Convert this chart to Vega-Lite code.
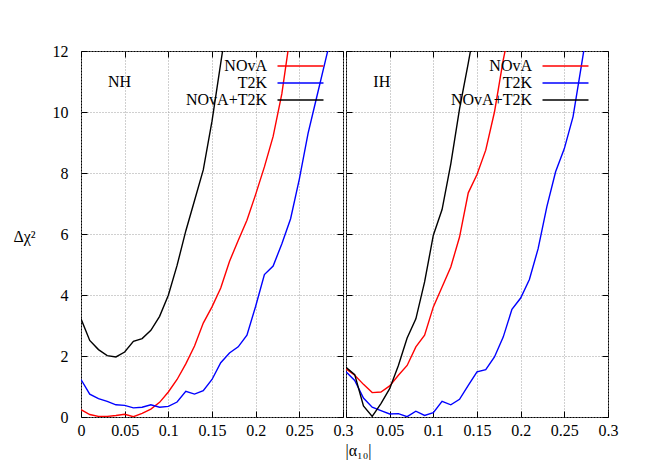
{
  "$schema": "https://vega.github.io/schema/vega-lite/v6.json",
  "padding": {"left": 12, "top": -26, "right": 5, "bottom": 5},
  "bounds": "flush",
  "spacing": 3,
  "background": "white",
  "config": {
    "font": "Liberation Serif",
    "view": {"stroke": "#000", "strokeWidth": 1},
    "axis": {
      "labelFont": "Liberation Serif", "labelFontSize": 16, "labelColor": "#000", "labelFlush": false,
      "titleFont": "Liberation Serif", "titleFontSize": 16, "titleFontWeight": "normal", "titleColor": "#000",
      "domain": false, "tickColor": "#000", "tickSize": -6, "tickWidth": 1,
      "gridColor": "#a0a0a0", "gridDash": [1, 2], "gridWidth": 1, "gridOpacity": 1
    }
  },
  "datasets": {
    "curves": [
      {"panel":"NH","series":"NOvA","x":0,"y":0.24},{"panel":"NH","series":"NOvA","x":0.01,"y":0.08},{"panel":"NH","series":"NOvA","x":0.02,"y":0.02},{"panel":"NH","series":"NOvA","x":0.03,"y":0.02},{"panel":"NH","series":"NOvA","x":0.04,"y":0.05},{"panel":"NH","series":"NOvA","x":0.05,"y":0.09},{"panel":"NH","series":"NOvA","x":0.06,"y":0.01},{"panel":"NH","series":"NOvA","x":0.07,"y":0.12},{"panel":"NH","series":"NOvA","x":0.08,"y":0.26},{"panel":"NH","series":"NOvA","x":0.09,"y":0.48},{"panel":"NH","series":"NOvA","x":0.10,"y":0.82},{"panel":"NH","series":"NOvA","x":0.11,"y":1.23},{"panel":"NH","series":"NOvA","x":0.12,"y":1.74},{"panel":"NH","series":"NOvA","x":0.13,"y":2.33},{"panel":"NH","series":"NOvA","x":0.14,"y":3.08},{"panel":"NH","series":"NOvA","x":0.15,"y":3.61},{"panel":"NH","series":"NOvA","x":0.16,"y":4.23},{"panel":"NH","series":"NOvA","x":0.17,"y":5.10},{"panel":"NH","series":"NOvA","x":0.18,"y":5.79},{"panel":"NH","series":"NOvA","x":0.19,"y":6.45},{"panel":"NH","series":"NOvA","x":0.20,"y":7.3},{"panel":"NH","series":"NOvA","x":0.21,"y":8.2},{"panel":"NH","series":"NOvA","x":0.22,"y":9.2},{"panel":"NH","series":"NOvA","x":0.23,"y":10.6},{"panel":"NH","series":"NOvA","x":0.24,"y":12.6},{"panel":"NH","series":"NOvA","x":0.25,"y":14.5},
      {"panel":"NH","series":"T2K","x":0,"y":1.23},{"panel":"NH","series":"T2K","x":0.01,"y":0.75},{"panel":"NH","series":"T2K","x":0.02,"y":0.60},{"panel":"NH","series":"T2K","x":0.03,"y":0.51},{"panel":"NH","series":"T2K","x":0.04,"y":0.40},{"panel":"NH","series":"T2K","x":0.05,"y":0.38},{"panel":"NH","series":"T2K","x":0.06,"y":0.30},{"panel":"NH","series":"T2K","x":0.07,"y":0.32},{"panel":"NH","series":"T2K","x":0.08,"y":0.40},{"panel":"NH","series":"T2K","x":0.09,"y":0.32},{"panel":"NH","series":"T2K","x":0.10,"y":0.35},{"panel":"NH","series":"T2K","x":0.11,"y":0.49},{"panel":"NH","series":"T2K","x":0.12,"y":0.84},{"panel":"NH","series":"T2K","x":0.13,"y":0.75},{"panel":"NH","series":"T2K","x":0.14,"y":0.86},{"panel":"NH","series":"T2K","x":0.15,"y":1.23},{"panel":"NH","series":"T2K","x":0.16,"y":1.78},{"panel":"NH","series":"T2K","x":0.17,"y":2.10},{"panel":"NH","series":"T2K","x":0.18,"y":2.30},{"panel":"NH","series":"T2K","x":0.19,"y":2.68},{"panel":"NH","series":"T2K","x":0.20,"y":3.63},{"panel":"NH","series":"T2K","x":0.21,"y":4.67},{"panel":"NH","series":"T2K","x":0.22,"y":4.95},{"panel":"NH","series":"T2K","x":0.23,"y":5.68},{"panel":"NH","series":"T2K","x":0.24,"y":6.5},{"panel":"NH","series":"T2K","x":0.25,"y":7.8},{"panel":"NH","series":"T2K","x":0.26,"y":9.3},{"panel":"NH","series":"T2K","x":0.27,"y":10.5},{"panel":"NH","series":"T2K","x":0.28,"y":11.7},{"panel":"NH","series":"T2K","x":0.29,"y":12.9},{"panel":"NH","series":"T2K","x":0.30,"y":14.0},
      {"panel":"NH","series":"NOvA+T2K","x":0,"y":3.22},{"panel":"NH","series":"NOvA+T2K","x":0.01,"y":2.51},{"panel":"NH","series":"NOvA+T2K","x":0.02,"y":2.21},{"panel":"NH","series":"NOvA+T2K","x":0.03,"y":2.01},{"panel":"NH","series":"NOvA+T2K","x":0.04,"y":1.97},{"panel":"NH","series":"NOvA+T2K","x":0.05,"y":2.13},{"panel":"NH","series":"NOvA+T2K","x":0.06,"y":2.48},{"panel":"NH","series":"NOvA+T2K","x":0.07,"y":2.57},{"panel":"NH","series":"NOvA+T2K","x":0.08,"y":2.84},{"panel":"NH","series":"NOvA+T2K","x":0.09,"y":3.30},{"panel":"NH","series":"NOvA+T2K","x":0.10,"y":3.99},{"panel":"NH","series":"NOvA+T2K","x":0.11,"y":4.97},{"panel":"NH","series":"NOvA+T2K","x":0.12,"y":6.1},{"panel":"NH","series":"NOvA+T2K","x":0.13,"y":7.1},{"panel":"NH","series":"NOvA+T2K","x":0.14,"y":8.1},{"panel":"NH","series":"NOvA+T2K","x":0.15,"y":9.7},{"panel":"NH","series":"NOvA+T2K","x":0.16,"y":11.6},{"panel":"NH","series":"NOvA+T2K","x":0.17,"y":13.5},
      {"panel":"IH","series":"NOvA","x":0,"y":1.58},{"panel":"IH","series":"NOvA","x":0.01,"y":1.37},{"panel":"IH","series":"NOvA","x":0.02,"y":1.07},{"panel":"IH","series":"NOvA","x":0.03,"y":0.80},{"panel":"IH","series":"NOvA","x":0.04,"y":0.82},{"panel":"IH","series":"NOvA","x":0.05,"y":1.02},{"panel":"IH","series":"NOvA","x":0.06,"y":1.37},{"panel":"IH","series":"NOvA","x":0.07,"y":1.69},{"panel":"IH","series":"NOvA","x":0.08,"y":2.30},{"panel":"IH","series":"NOvA","x":0.09,"y":2.68},{"panel":"IH","series":"NOvA","x":0.10,"y":3.61},{"panel":"IH","series":"NOvA","x":0.11,"y":4.26},{"panel":"IH","series":"NOvA","x":0.12,"y":4.92},{"panel":"IH","series":"NOvA","x":0.13,"y":5.90},{"panel":"IH","series":"NOvA","x":0.14,"y":7.35},{"panel":"IH","series":"NOvA","x":0.15,"y":7.95},{"panel":"IH","series":"NOvA","x":0.16,"y":8.75},{"panel":"IH","series":"NOvA","x":0.17,"y":10.0},{"panel":"IH","series":"NOvA","x":0.18,"y":11.7},{"panel":"IH","series":"NOvA","x":0.19,"y":13.1},
      {"panel":"IH","series":"T2K","x":0,"y":1.48},{"panel":"IH","series":"T2K","x":0.01,"y":1.20},{"panel":"IH","series":"T2K","x":0.02,"y":0.62},{"panel":"IH","series":"T2K","x":0.03,"y":0.32},{"panel":"IH","series":"T2K","x":0.04,"y":0.21},{"panel":"IH","series":"T2K","x":0.05,"y":0.10},{"panel":"IH","series":"T2K","x":0.06,"y":0.11},{"panel":"IH","series":"T2K","x":0.07,"y":0.01},{"panel":"IH","series":"T2K","x":0.08,"y":0.19},{"panel":"IH","series":"T2K","x":0.09,"y":0.05},{"panel":"IH","series":"T2K","x":0.10,"y":0.14},{"panel":"IH","series":"T2K","x":0.11,"y":0.51},{"panel":"IH","series":"T2K","x":0.12,"y":0.40},{"panel":"IH","series":"T2K","x":0.13,"y":0.58},{"panel":"IH","series":"T2K","x":0.14,"y":1.04},{"panel":"IH","series":"T2K","x":0.15,"y":1.48},{"panel":"IH","series":"T2K","x":0.16,"y":1.55},{"panel":"IH","series":"T2K","x":0.17,"y":1.97},{"panel":"IH","series":"T2K","x":0.18,"y":2.62},{"panel":"IH","series":"T2K","x":0.19,"y":3.53},{"panel":"IH","series":"T2K","x":0.20,"y":3.90},{"panel":"IH","series":"T2K","x":0.21,"y":4.51},{"panel":"IH","series":"T2K","x":0.22,"y":5.52},{"panel":"IH","series":"T2K","x":0.23,"y":6.9},{"panel":"IH","series":"T2K","x":0.24,"y":8.04},{"panel":"IH","series":"T2K","x":0.25,"y":8.8},{"panel":"IH","series":"T2K","x":0.26,"y":9.85},{"panel":"IH","series":"T2K","x":0.27,"y":11.6},{"panel":"IH","series":"T2K","x":0.28,"y":13.4},
      {"panel":"IH","series":"NOvA+T2K","x":0,"y":1.63},{"panel":"IH","series":"NOvA+T2K","x":0.01,"y":1.39},{"panel":"IH","series":"NOvA+T2K","x":0.02,"y":0.36},{"panel":"IH","series":"NOvA+T2K","x":0.03,"y":0.02},{"panel":"IH","series":"NOvA+T2K","x":0.04,"y":0.44},{"panel":"IH","series":"NOvA+T2K","x":0.05,"y":0.93},{"panel":"IH","series":"NOvA+T2K","x":0.06,"y":1.69},{"panel":"IH","series":"NOvA+T2K","x":0.07,"y":2.59},{"panel":"IH","series":"NOvA+T2K","x":0.08,"y":3.22},{"panel":"IH","series":"NOvA+T2K","x":0.09,"y":4.43},{"panel":"IH","series":"NOvA+T2K","x":0.10,"y":5.96},{"panel":"IH","series":"NOvA+T2K","x":0.11,"y":6.8},{"panel":"IH","series":"NOvA+T2K","x":0.12,"y":8.3},{"panel":"IH","series":"NOvA+T2K","x":0.13,"y":10.1},{"panel":"IH","series":"NOvA+T2K","x":0.14,"y":11.6},{"panel":"IH","series":"NOvA+T2K","x":0.15,"y":13.2}
    ],
    "labels": [{"panel": "NH", "x": 0.044, "y": 11.0}, {"panel": "IH", "x": 0.041, "y": 11.0}]
  },
  "resolve": {"legend": {"color": "independent"}},
  "hconcat": [
    {
      "width": 262, "height": 366,
      "resolve": {"axis": {"x": "independent", "y": "independent"}},
      "layer": [
        {
          "data": {"name": "curves"},
          "transform": [{"filter": "datum.panel == 'NH'"}],
          "mark": {"type": "line", "clip": true, "strokeWidth": 1.4},
          "encoding": {
            "x": {"field": "x", "type": "quantitative", "scale": {"domain": [0, 0.3], "nice": false, "zero": false},
              "axis": {"orient": "bottom", "values": [0, 0.05, 0.1, 0.15, 0.2, 0.25, 0.3], "format": "~g", "grid": true, "labelPadding": 11,
                "title": "|α₁₀|", "titleX": 277, "titleY": 33, "titleAlign": "center", "titleBaseline": "middle"}},
            "y": {"field": "y", "type": "quantitative", "scale": {"domain": [0, 12], "nice": false},
              "axis": {"orient": "left", "values": [0, 2, 4, 6, 8, 10, 12], "grid": true, "labelPadding": 19,
                "title": "Δχ²", "titleAngle": 0, "titleX": -57, "titleY": 185, "titleAlign": "center", "titleBaseline": "middle"}},
            "color": {"field": "series", "type": "nominal",
              "scale": {"domain": ["NOvA", "T2K", "NOvA+T2K"], "range": ["#ff0000", "#0000ff", "#000000"]},
              "legend": {"orient": "none", "legendX": 211, "legendY": 6.5, "title": null, "symbolType": "M-3,0H3", "symbolSize": 235,
                "symbolStrokeWidth": 1.5, "labelAlign": "right", "labelOffset": -42, "labelFontSize": 16, "labelFont": "Liberation Serif",
                "labelColor": "#000", "rowPadding": -1.7, "padding": 0}}
          }
        },
        {
          "data": {"name": "curves"},
          "transform": [{"filter": "datum.panel == 'NH'"}],
          "mark": {"type": "line", "opacity": 0},
          "encoding": {
            "x": {"field": "x", "type": "quantitative", "axis": {"orient": "top", "values": [0, 0.05, 0.1, 0.15, 0.2, 0.25, 0.3], "labels": false, "grid": false, "title": null}},
            "y": {"field": "y", "type": "quantitative", "axis": {"orient": "right", "values": [0, 2, 4, 6, 8, 10, 12], "labels": false, "grid": false, "title": null}},
            "detail": {"field": "series"}
          }
        },
        {
          "data": {"name": "labels"},
          "transform": [{"filter": "datum.panel == 'NH'"}],
          "mark": {"type": "text", "fontSize": 16, "font": "Liberation Serif", "color": "#000"},
          "encoding": {
            "x": {"field": "x", "type": "quantitative", "axis": null},
            "y": {"field": "y", "type": "quantitative", "axis": null},
            "text": {"field": "panel"}
          }
        }
      ]
    },
    {
      "width": 262, "height": 366,
      "resolve": {"axis": {"x": "independent", "y": "independent"}},
      "layer": [
        {
          "data": {"name": "curves"},
          "transform": [{"filter": "datum.panel == 'IH'"}],
          "mark": {"type": "line", "clip": true, "strokeWidth": 1.4},
          "encoding": {
            "x": {"field": "x", "type": "quantitative", "scale": {"domain": [0, 0.3], "nice": false, "zero": false},
              "axis": {"orient": "bottom", "values": [0, 0.05, 0.1, 0.15, 0.2, 0.25, 0.3], "format": "~g", "grid": true, "labelPadding": 11,
                "labelExpr": "datum.value == 0 ? '' : datum.label", "title": null}},
            "y": {"field": "y", "type": "quantitative", "scale": {"domain": [0, 12], "nice": false},
              "axis": {"orient": "left", "values": [0, 2, 4, 6, 8, 10, 12], "grid": true, "labels": false, "title": null}},
            "color": {"field": "series", "type": "nominal",
              "scale": {"domain": ["NOvA", "T2K", "NOvA+T2K"], "range": ["#ff0000", "#0000ff", "#000000"]},
              "legend": {"orient": "none", "legendX": 211, "legendY": 6.5, "title": null, "symbolType": "M-3,0H3", "symbolSize": 235,
                "symbolStrokeWidth": 1.5, "labelAlign": "right", "labelOffset": -42, "labelFontSize": 16, "labelFont": "Liberation Serif",
                "labelColor": "#000", "rowPadding": -1.7, "padding": 0}}
          }
        },
        {
          "data": {"name": "curves"},
          "transform": [{"filter": "datum.panel == 'IH'"}],
          "mark": {"type": "line", "opacity": 0},
          "encoding": {
            "x": {"field": "x", "type": "quantitative", "axis": {"orient": "top", "values": [0, 0.05, 0.1, 0.15, 0.2, 0.25, 0.3], "labels": false, "grid": false, "title": null}},
            "y": {"field": "y", "type": "quantitative", "axis": {"orient": "right", "values": [0, 2, 4, 6, 8, 10, 12], "labels": false, "grid": false, "title": null}},
            "detail": {"field": "series"}
          }
        },
        {
          "data": {"name": "labels"},
          "transform": [{"filter": "datum.panel == 'IH'"}],
          "mark": {"type": "text", "fontSize": 16, "font": "Liberation Serif", "color": "#000"},
          "encoding": {
            "x": {"field": "x", "type": "quantitative", "axis": null},
            "y": {"field": "y", "type": "quantitative", "axis": null},
            "text": {"field": "panel"}
          }
        }
      ]
    }
  ]
}
